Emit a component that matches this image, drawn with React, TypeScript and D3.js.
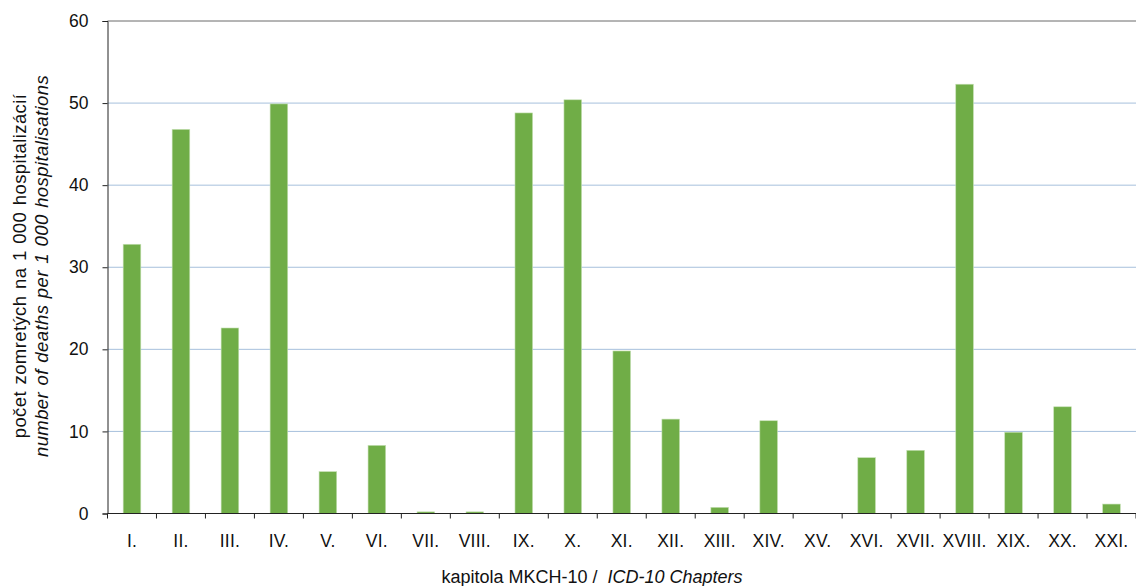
import React, { useEffect, useRef } from "react";
import * as d3 from "d3";

const categories = ["I.", "II.", "III.", "IV.", "V.", "VI.", "VII.", "VIII.", "IX.", "X.", "XI.", "XII.", "XIII.", "XIV.", "XV.", "XVI.", "XVII.", "XVIII.", "XIX.", "XX.", "XXI."];
const values = [32.8, 46.8, 22.6, 49.9, 5.1, 8.3, 0.2, 0.2, 48.8, 50.4, 19.8, 11.5, 0.75, 11.3, 0, 6.8, 7.7, 52.3, 9.9, 13.0, 1.15];
const yTicks = [0, 10, 20, 30, 40, 50, 60];

const W = 1136, H = 586;
const left = 107.5, right = 1136, top = 21, bottom = 513.5;

export default function App() {
  const ref = useRef<SVGSVGElement>(null);
  useEffect(() => {
    const svg = d3.select(ref.current);
    svg.selectAll("*").remove();
    const font = "'Liberation Sans', Arial, sans-serif";
    const x = d3.scaleBand().domain(categories).range([left, right]).paddingInner(0.64).paddingOuter(0.32);
    const y = d3.scaleLinear().domain([0, 60]).range([bottom, top]);

    // gridlines
    svg.append("g").selectAll("line").data(yTicks.filter(t => t > 0 && t < 60)).join("line")
      .attr("x1", left).attr("x2", right)
      .attr("y1", d => y(d)).attr("y2", d => y(d))
      .attr("stroke", "#A6C0DC").attr("stroke-width", 1);
    // top line
    svg.append("line").attr("x1", left).attr("x2", right).attr("y1", y(60)).attr("y2", y(60))
      .attr("stroke", "#6b6b6b").attr("stroke-width", 1);

    // bars
    svg.append("g").selectAll("rect").data(values).join("rect")
      .attr("x", (d, i) => x(categories[i])!)
      .attr("width", x.bandwidth())
      .attr("y", d => y(d))
      .attr("height", d => bottom - y(d))
      .attr("fill", "#70AD47")
      .attr("stroke", "#C5E0B4").attr("stroke-width", d => d > 0 ? 0.6 : 0);

    // y axis
    const yAxis = d3.axisLeft(y).tickValues(yTicks).tickSize(5).tickPadding(14).tickFormat(d3.format("d"));
    const gy = svg.append("g").attr("transform", `translate(${left},0)`).call(yAxis);
    gy.select(".domain").attr("stroke", "#222");
    gy.selectAll(".tick line").attr("stroke", "#222");
    gy.selectAll("text").attr("font-family", font).attr("font-size", 17.5).attr("fill", "#111");

    // x axis
    const step = (right - left) / categories.length;
    const gx = svg.append("g").attr("transform", `translate(0,${bottom})`);
    gx.append("line").attr("x1", left).attr("x2", right).attr("stroke", "#222");
    gx.selectAll("line.tk").data(d3.range(categories.length + 1)).join("line").attr("class", "tk")
      .attr("x1", i => left + i * step).attr("x2", i => left + i * step)
      .attr("y1", 0).attr("y2", 5).attr("stroke", "#222");
    gx.selectAll("text").data(categories).join("text")
      .attr("x", d => x(d)! + x.bandwidth() / 2).attr("y", 33)
      .attr("text-anchor", "middle").attr("font-family", font).attr("font-size", 17.5).attr("fill", "#111")
      .attr("letter-spacing", 0.2)
      .text(d => d);

    // x title
    const xt = svg.append("text").attr("x", 592).attr("y", 583).attr("text-anchor", "middle")
      .attr("font-family", font).attr("font-size", 18).attr("fill", "#111")
      .style("white-space", "pre");
    xt.append("tspan").text("kapitola MKCH-10 /  ");
    xt.append("tspan").attr("font-style", "italic").text("ICD-10 Chapters");

    // y title
    const yt = svg.append("g").attr("transform", `translate(0,266) rotate(-90)`);
    yt.append("text").attr("x", 0).attr("y", 26).attr("text-anchor", "middle")
      .attr("font-family", font).attr("font-size", 18.5).attr("fill", "#111")
      .attr("letter-spacing", 0.4).attr("word-spacing", 1)
      .text("počet zomretých na 1 000 hospitalizácií");
    yt.append("text").attr("x", 0).attr("y", 48).attr("text-anchor", "middle")
      .attr("font-family", font).attr("font-size", 18.5).attr("font-style", "italic").attr("fill", "#111")
      .attr("letter-spacing", 0.4).attr("word-spacing", 1)
      .text("number of deaths per 1 000 hospitalisations");
  }, []);
  return (
    <svg ref={ref} width={W} height={H} style={{ position: "absolute", left: 0, top: 0, background: "#fff" }} />
  );
}
